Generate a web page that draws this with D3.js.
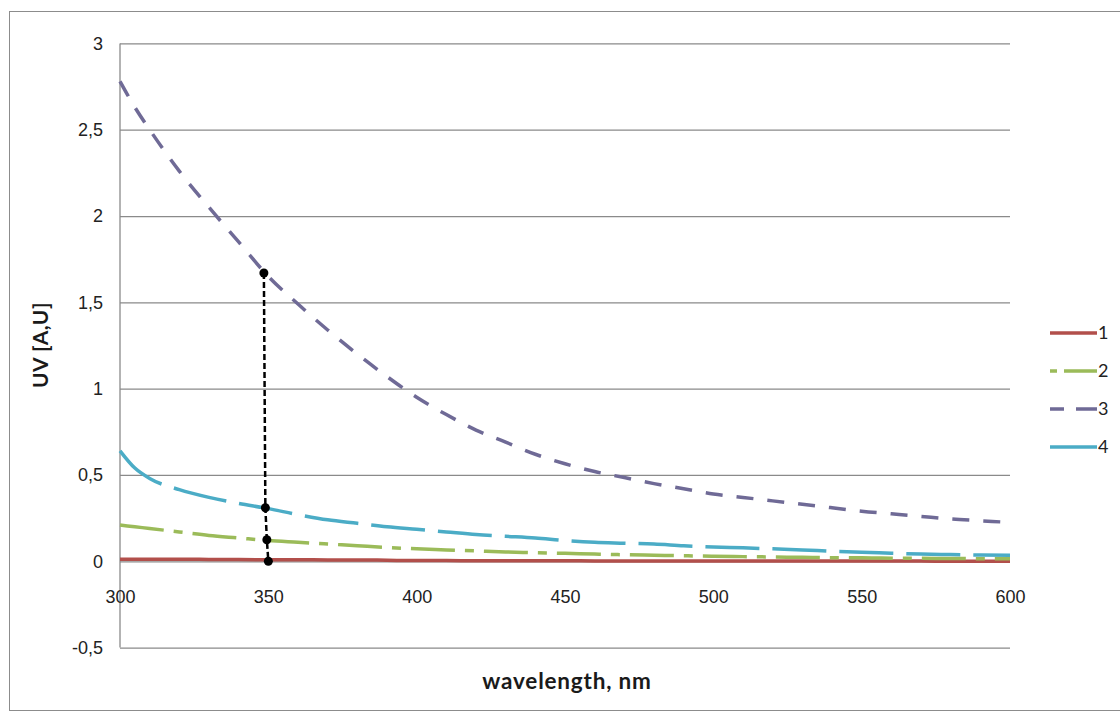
<!DOCTYPE html>
<html>
<head>
<meta charset="utf-8">
<script src="https://cdn.jsdelivr.net/npm/d3@7"></script>
<style>
  body { margin: 0; background: #fff; }
  svg { font-family: Lato, "Liberation Sans", sans-serif; }
</style>
</head>
<body>
<svg id="chart" width="1120" height="716"></svg>
<script>
// wavelengths (nm) shared by all four curves
const wavelengths = [300, 305, 310, 320, 330, 340, 350, 360, 370, 380, 390, 400, 410, 420, 430, 440, 450,
  460, 470, 480, 490, 500, 510, 520, 530, 540, 550, 560, 570, 580, 590, 600]

const series1 = [0.012, 0.012, 0.012, 0.012, 0.011, 0.010, 0.009, 0.009, 0.008, 0.008, 0.006, 0.004, 0.004,
  0.003, 0.003, 0.003, 0.003, 0.002, 0.002, 0.002, 0.002, 0.002, 0.002, 0.001, 0.001, 0.001, 0.001,
  0.001, 0.001, 0.000, 0.000, 0.000]
const series2 = [0.21, 0.20, 0.19, 0.17, 0.15, 0.135, 0.12, 0.11, 0.10, 0.09, 0.08, 0.072, 0.066, 0.060,
  0.054, 0.050, 0.046, 0.042, 0.038, 0.035, 0.032, 0.029, 0.027, 0.025, 0.023, 0.021, 0.020, 0.018,
  0.017, 0.016, 0.015, 0.014]
const series3 = [2.78, 2.63, 2.50, 2.26, 2.05, 1.85, 1.65, 1.49, 1.34, 1.20, 1.07, 0.95, 0.85, 0.76, 0.69,
  0.62, 0.565, 0.52, 0.485, 0.45, 0.42, 0.39, 0.37, 0.35, 0.33, 0.31, 0.29, 0.275, 0.26, 0.245, 0.235, 0.225]
const series4 = [0.64, 0.54, 0.48, 0.415, 0.37, 0.335, 0.305, 0.27, 0.24, 0.22, 0.20, 0.185, 0.17, 0.155,
  0.145, 0.135, 0.12, 0.11, 0.105, 0.10, 0.09, 0.083, 0.078, 0.072, 0.066, 0.058, 0.052, 0.047,
  0.042, 0.039, 0.036, 0.035]

const seriesNames = ["1", "2", "3", "4"]

// the dotted drop line with its four markers
const markerX = [348.5, 349, 349.5, 350]
const markerY = [1.67, 0.31, 0.125, 0]

const xTicks = [300, 350, 400, 450, 500, 550, 600]
const yTicks = [-0.5, 0, 0.5, 1, 1.5, 2, 2.5, 3]

const PLOT = {left: 120, right: 1010, top: 43.4, bottom: 647.6}

const svg = d3.select("#chart")

// outer chart frame
svg.append("rect")
  .attr("x", 9.5).attr("y", 11.5)
  .attr("width", 1125).attr("height", 699)
  .attr("fill", "#fff")
  .attr("stroke", "#8c8c8c")
  .attr("stroke-width", 1)

const xScale = d3.scaleLinear().domain([300, 600]).range([PLOT.left, PLOT.right])
const yScale = d3.scaleLinear().domain([-0.5, 3]).range([PLOT.bottom, PLOT.top])

// excel style: comma decimals, plain hyphen for minus
const commaFmt = v => String(v).replace(".", ",")

// horizontal gridlines + y labels
svg.append("g")
  .attr("transform", `translate(${PLOT.left},0)`)
  .call(d3.axisLeft(yScale).tickValues(yTicks).tickSize(-(PLOT.right - PLOT.left)).tickPadding(17).tickFormat(commaFmt))
  .call(g => g.select(".domain").remove())
  .call(g => g.selectAll(".tick line").attr("stroke", "#8a8a8a").attr("stroke-width", 1.3))
  .call(g => g.selectAll(".tick text").attr("fill", "#222").attr("font-size", 18))

// vertical axis line
svg.append("line")
  .attr("x1", PLOT.left).attr("x2", PLOT.left)
  .attr("y1", PLOT.top).attr("y2", PLOT.bottom)
  .attr("stroke", "#8a8a8a").attr("stroke-width", 1.3)

// x labels sit under the zero line
svg.append("g")
  .attr("transform", `translate(0,${yScale(0)})`)
  .call(d3.axisBottom(xScale).tickValues(xTicks).tickSize(0).tickPadding(29).tickFormat(d3.format("d")))
  .call(g => g.select(".domain").remove())
  .call(g => g.selectAll(".tick text").attr("fill", "#222").attr("font-size", 18))

// axis titles
svg.append("text")
  .attr("x", 567)
  .attr("y", 689)
  .attr("text-anchor", "middle")
  .attr("font-weight", "bold")
  .attr("font-size", 22.5)
  .attr("letter-spacing", 0.8)
  .attr("fill", "#1a1a1a")
  .text("wavelength, nm")

svg.append("text")
  .attr("transform", `translate(48,345) rotate(-90)`)
  .attr("text-anchor", "middle")
  .attr("font-weight", "bold")
  .attr("font-size", 21)
  .attr("letter-spacing", 0.5)
  .attr("fill", "#1a1a1a")
  .text("UV [A,U]")

const styles = [
  {color: "#b24f4b", dash: null, width: 3.5},
  {color: "#9bbb59", dash: "44,10,9,10", width: 3.5},
  {color: "#6f6a96", dash: "17,14", width: 3.5},
  {color: "#4bacc6", dash: "54,13", width: 3.5}
]

const allSeries = [series1, series2, series3, series4]
const line = d3.line()
  .x((d, i) => xScale(wavelengths[i]))
  .y(d => yScale(d))
  .curve(d3.curveMonotoneX)

svg.append("g").attr("id", "lines")
  .selectAll("path")
  .data(allSeries)
  .join("path")
  .attr("d", d => line(d))
  .attr("fill", "none")
  .attr("stroke", (d, i) => styles[i].color)
  .attr("stroke-width", (d, i) => styles[i].width)
  .attr("stroke-dasharray", (d, i) => styles[i].dash)

// drop line
const dropLine = d3.line()
  .x((d, i) => xScale(markerX[i]))
  .y(d => yScale(d))

svg.append("path")
  .attr("d", dropLine(markerY))
  .attr("fill", "none")
  .attr("stroke", "#000")
  .attr("stroke-width", 2.5)
  .attr("stroke-dasharray", "6,3")

svg.selectAll(".marker")
  .data(markerY)
  .join("circle")
  .attr("class", "marker")
  .attr("cx", (d, i) => xScale(markerX[i]))
  .attr("cy", d => yScale(d))
  .attr("r", 4.5)
  .attr("fill", "#000")

// legend
const legend = svg.append("g").attr("transform", "translate(1050,333)")
const rows = legend.selectAll("g")
  .data(seriesNames)
  .join("g")
  .attr("transform", (d, i) => `translate(0,${i * 38})`)

rows.append("line")
  .attr("x1", 0).attr("x2", 47)
  .attr("stroke", (d, i) => styles[i].color)
  .attr("stroke-width", 3.5)
  .attr("stroke-dasharray", (d, i) => ["", "7,7,28,0", "14,12,21,0", ""][i] || null)

rows.append("text")
  .attr("x", 48)
  .attr("dy", "0.35em")
  .attr("font-size", 18)
  .attr("fill", "#222")
  .text(d => d)
</script>
</body>
</html>
